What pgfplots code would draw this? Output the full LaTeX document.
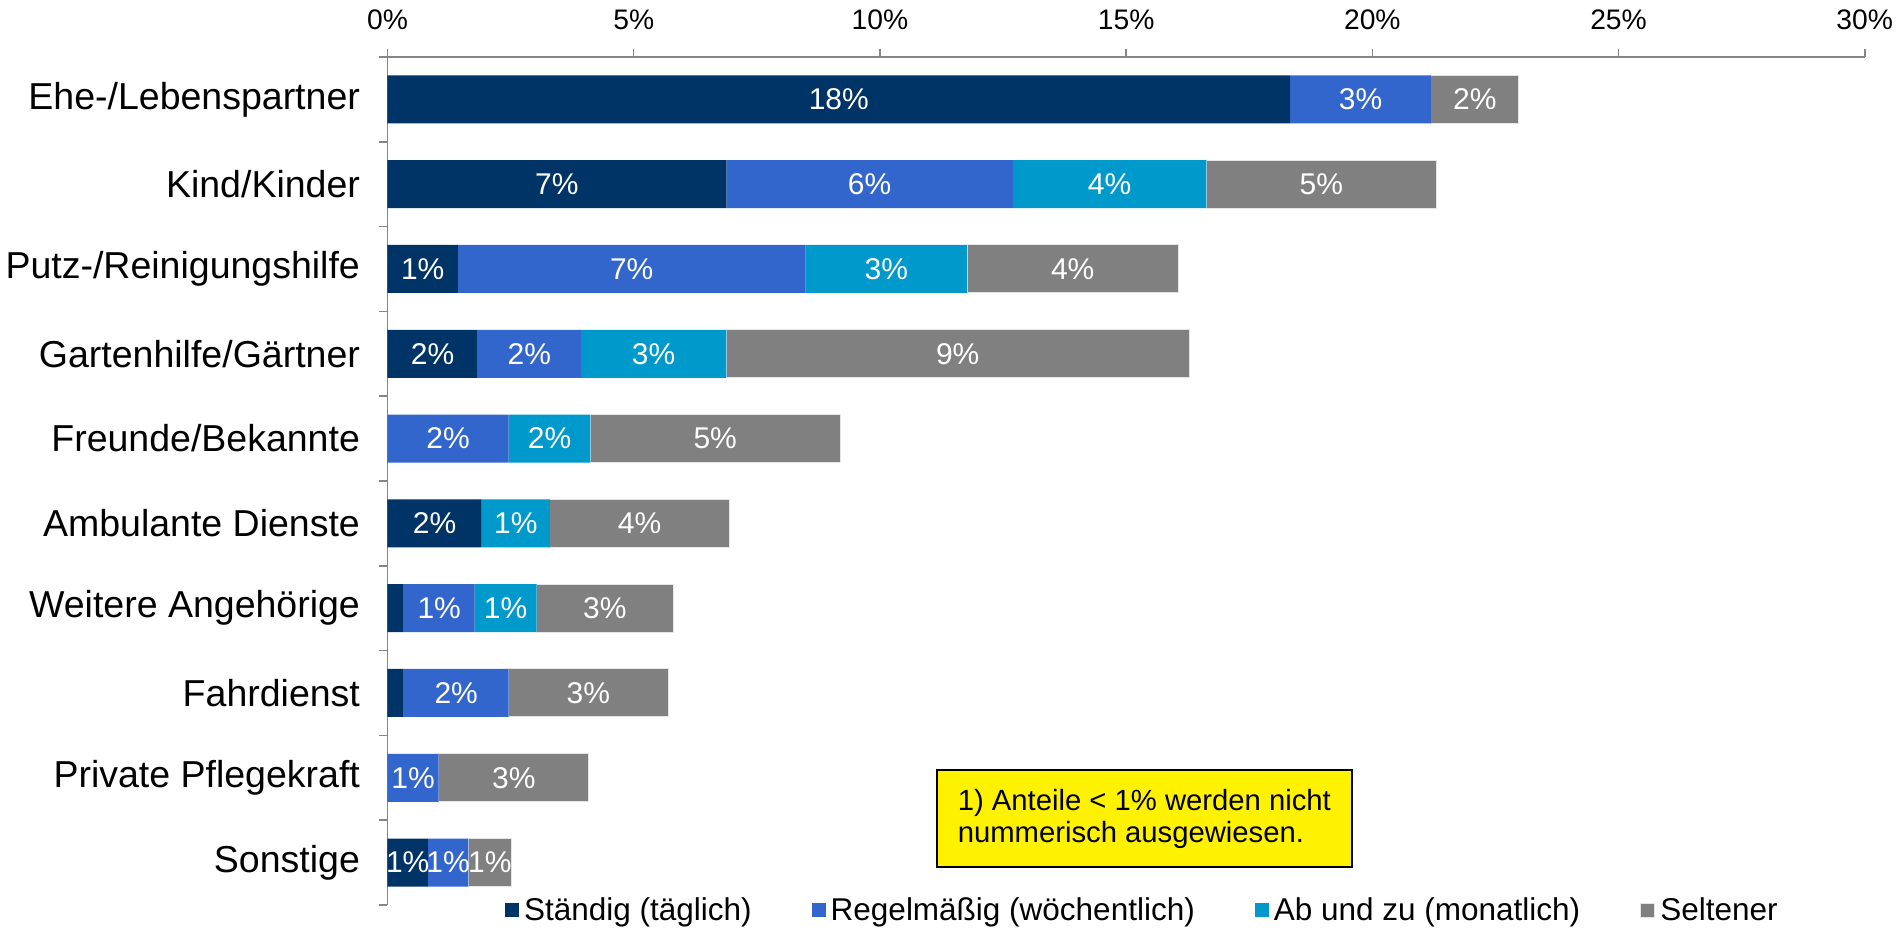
\documentclass[border=0pt]{standalone}
\usepackage{pgfplots}
\usepackage{pgfplotstable}
\pgfplotsset{compat=1.18}
\usepackage{fontspec}
\setmainfont{Liberation Sans}

\definecolor{cStaendig}{RGB}{0,51,102}
\definecolor{cRegel}{RGB}{51,102,204}
\definecolor{cAbund}{RGB}{0,153,204}
\definecolor{cSelten}{RGB}{128,128,128}
\definecolor{axgray}{RGB}{134,134,134}

% y: 9 = Ehe-/Lebenspartner ... 0 = Sonstige; lab = printed percent (0 = none)
\pgfplotstableread{
y val lab
9 18.33 18
8 6.88 7
7 1.43 1
6 1.83 2
5 0 0
4 1.91 2
3 0.33 0
2 0.33 0
1 0 0
0 0.82 1
}\staendig
\pgfplotstableread{
y val lab
9 2.86 3
8 5.82 6
7 7.06 7
6 2.10 2
5 2.46 2
4 0 0
3 1.44 1
2 2.13 2
1 1.04 1
0 0.82 1
}\regel
\pgfplotstableread{
y val lab
9 0 0
8 3.93 4
7 3.28 3
6 2.95 3
5 1.66 2
4 1.39 1
3 1.26 1
2 0 0
1 0 0
0 0 0
}\abund
\pgfplotstableread{
y val lab
9 1.78 2
8 4.67 5
7 4.29 4
6 9.40 9
5 5.07 5
4 3.64 4
3 2.77 3
2 3.24 3
1 3.05 3
0 0.88 1
}\selten

\begin{document}
\begin{tikzpicture}
\useasboundingbox (-155pt,-10pt) rectangle (604.6pt,362pt);
\begin{axis}[
    scale only axis,
    width=590.9pt, height=339.2pt,
    xbar stacked, bar width=19.2pt,
    xmin=0, xmax=30, ymin=-0.5, ymax=9.5,
    axis x line*=top, axis y line*=left,
    x axis line style={line width=1pt, color=axgray},
    y axis line style={line width=0.6pt, color=axgray},
    tick align=outside,
    xtick={0,5,...,30},
    xticklabels={0\%,5\%,10\%,15\%,20\%,25\%,30\%},
    xticklabel style={font=\fontsize{11.3}{13}\selectfont, yshift=4pt},
    major x tick style={axgray, line width=0.6pt},
    major tick length=3.3pt,
    ytick={-0.5,0.5,...,9.5},
    yticklabels={},
    major y tick style={axgray, line width=0.6pt},
    extra y ticks={0,...,9},
    extra y tick labels={Sonstige,Private Pflegekraft,Fahrdienst,Weitere Angehörige,Ambulante Dienste,Freunde/Bekannte,Gartenhilfe/Gärtner,Putz-/Reinigungshilfe,Kind/Kinder,Ehe-/Lebenspartner},
    extra y tick style={tick style={draw=none}, yticklabel style={font=\fontsize{15}{18}\selectfont, xshift=-4.2pt}},
    point meta=explicit symbolic,
    nodes near coords={\ifnum\pgfplotspointmeta>0 \pgfplotspointmeta\%\fi},
    every node near coord/.append style={anchor=center, white,
        font=\fontsize{12}{14}\selectfont, inner sep=0pt},
    legend style={at={(0.512,-0.007)}, anchor=center, legend columns=4,
        draw=none, fill=none, font=\fontsize{12.6}{15}\selectfont,
        /tikz/every even column/.append style={column sep=22pt}},
    legend image code/.code={\fill[#1] (0pt,-2.6pt) rectangle (5.6pt,3.0pt);},
    clip=false,
]
\addplot[fill=cStaendig, draw=none] table[x=val, y=y, meta=lab] {\staendig};
\addplot[fill=cRegel, draw=none] table[x=val, y=y, meta=lab] {\regel};
\addplot[fill=cAbund, draw=none] table[x=val, y=y, meta=lab] {\abund};
\addplot[fill=cSelten, draw=white!80!gray, line width=0.4pt] table[x=val, y=y, meta=lab] {\selten};
\legend{Ständig (täglich), Regelmäßig (wöchentlich), Ab und zu (monatlich), Seltener}
\node[draw=black, line width=0.6pt, fill=yellow, minimum width=166pt,
      minimum height=38.8pt, align=left, font=\fontsize{11.7}{12.8}\selectfont]
      at (axis cs:15.37,0.52) {1) Anteile < 1\% werden nicht\\nummerisch ausgewiesen.};
\end{axis}
\end{tikzpicture}
\end{document}
